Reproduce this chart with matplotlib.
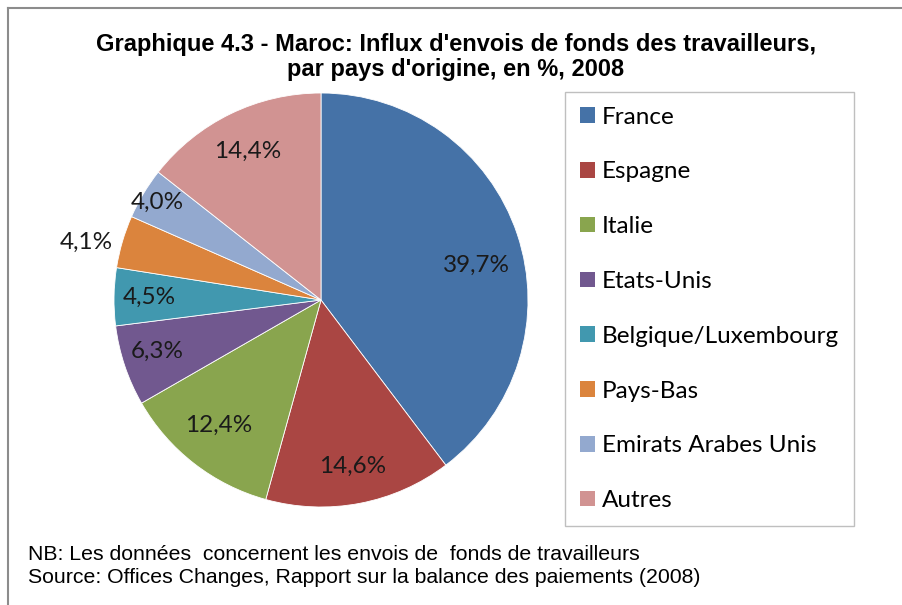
import matplotlib
matplotlib.use("Agg")
import numpy as np
import matplotlib.pyplot as plt
from matplotlib.patches import Patch
from matplotlib.lines import Line2D

# data
pays = ["France", "Espagne", "Italie", "Etats-Unis", "Belgique/Luxembourg",
        "Pays-Bas", "Emirats Arabes Unis", "Autres"]
parts = [39.7, 14.6, 12.4, 6.3, 4.5, 4.1, 4.0, 14.4]
couleurs = ["#4572A7", "#AA4643", "#89A54E", "#71588F", "#4198AF",
            "#DB843D", "#93A9CF", "#D19392"]
# label placement: distance from centre (fraction of radius), angle shift (deg)
dist_lab = [0.77, 0.82, 0.78, 0.83, 0.83, 1.17, 0.92, 0.80]
decal_lab = [-5.8, 0, -1.5, -1, 0, 2.5, 0, 0.5]

titre = "Graphique 4.3 - Maroc: Influx d'envois de fonds des travailleurs,\npar pays d'origine, en %, 2008"
note = ("NB: Les données  concernent les envois de  fonds de travailleurs\n"
        "Source: Offices Changes, Rapport sur la balance des paiements (2008)")

W, H = 902, 605
fig = plt.figure(figsize=(W / 100, H / 100), dpi=100)

# pie, centre (321, 300) px, radius 207 px
cx, cy, r = 321, 300, 207
ax = fig.add_axes([(cx - r) / W, (H - cy - r) / H, 2 * r / W, 2 * r / H])
wedges, _ = ax.pie(parts, colors=couleurs, startangle=90, counterclock=False,
                   radius=1, wedgeprops=dict(edgecolor="white", linewidth=0.6))
ax.set_xlim(-1, 1)
ax.set_ylim(-1, 1)

for w, v, d, da in zip(wedges, parts, dist_lab, decal_lab):
    ang = np.deg2rad((w.theta1 + w.theta2) / 2 + da)
    ax.text(d * np.cos(ang), d * np.sin(ang), f"{v:.1f}%".replace(".", ","),
            ha="center", va="center", fontsize=17.5, family="Lato",
            color="#1a1a1a", clip_on=False)

# legend
handles = [Patch(facecolor=c, edgecolor="none") for c in couleurs]
leg = fig.legend(handles, pays, loc="upper left",
                 bbox_to_anchor=(565 / W, 1 - 92 / H),
                 prop=dict(family="Lato", size=17.5),
                 handlelength=0.62, handleheight=0.62, handletextpad=0.3,
                 labelspacing=1.39, borderpad=0.6, borderaxespad=0,
                 fancybox=False, framealpha=1)
leg.get_frame().set_edgecolor("#bfbfbf")
leg.get_frame().set_linewidth(1.0)

# title
fig.text(456 / W, 1 - 57 / H, titre, ha="center", va="center",
         fontsize=17, fontweight="bold", family="Liberation Sans",
         linespacing=1.15)

# footnote
fig.text(28 / W, 1 - 566 / H, note, ha="left", va="center", fontsize=15.3,
         family="Liberation Sans", linespacing=1.25)

# outer chart frame (cropped on right/bottom)
fig.add_artist(Line2D([8 / W, 8 / W], [0, 1 - 8 / H], color="#8c8c8c", lw=1.5))
fig.add_artist(Line2D([8 / W, 1], [1 - 8 / H, 1 - 8 / H], color="#8c8c8c", lw=1.5))

fig.savefig("out.png", dpi=100)
